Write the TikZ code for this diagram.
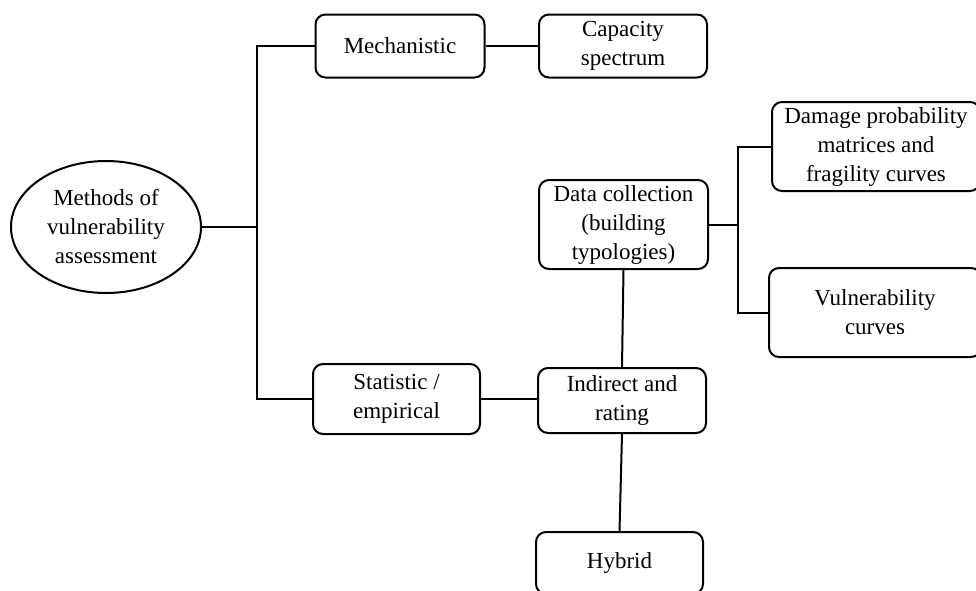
\documentclass[tikz,border=0pt]{standalone}
\usepackage{fontspec}
\setmainfont{Liberation Serif}
\usetikzlibrary{shapes.geometric}
\begin{document}
\begin{tikzpicture}[x=1pt,y=-1pt,
  every node/.style={font=\fontsize{23}{29}\selectfont, align=center, inner sep=0pt},
  rbox/.style={draw, line width=2pt, rounded corners=10pt},
  link/.style={line width=2pt}]
\useasboundingbox (0,0) rectangle (976,590);
\clip (0,0) rectangle (976,590);
\fill[white] (0,0) rectangle (976,590);
\node[ellipse, draw, line width=2pt, minimum width=190pt, minimum height=132pt] (ell) at (106,227) {Methods of\\vulnerability\\assessment};
\node[rbox, minimum width=169pt, minimum height=63pt] (mech) at (400,46) {Mechanistic};
\node[rbox, minimum width=168pt, minimum height=63pt] (cap) at (623,46) {Capacity\\spectrum};
\node[rbox, minimum width=169pt, minimum height=89pt] (data) at (623.5,224.5) {Data collection\\(building\\typologies)};
\node[rbox, minimum width=208pt, minimum height=89pt] (dmg) at (876,146.5) {Damage probability\\matrices and\\fragility curves};
\node[rbox, minimum width=212pt, minimum height=89pt] (vul) at (875,312.5) {Vulnerability\\curves};
\node[rbox, minimum width=167pt, minimum height=70pt] (stat) at (396.5,399) {Statistic /\\empirical};
\node[rbox, minimum width=168pt, minimum height=65pt] (ind) at (622,400.5) {Indirect and\\rating};
\node[rbox, minimum width=167pt, minimum height=62pt] (hyb) at (619.5,563) {Hybrid};
\coordinate (sp) at (257,227);
\coordinate (br) at (738,224.5);
\draw[link] (ell.east) -- (sp);
\draw[link] (mech.west) -| (sp) |- (stat.west);
\draw[link] (mech.east) -- (mech.east -| cap.west);
\draw[link] (stat.east) -- (stat.east -| ind.west);
\draw[link] (data.south) -- (ind.north);
\draw[link] (ind.south) -- (hyb.north);
\draw[link] (data.east) -- (br);
\draw[link] (dmg.west) -| (br) |- (vul.west);
\end{tikzpicture}
\end{document}
